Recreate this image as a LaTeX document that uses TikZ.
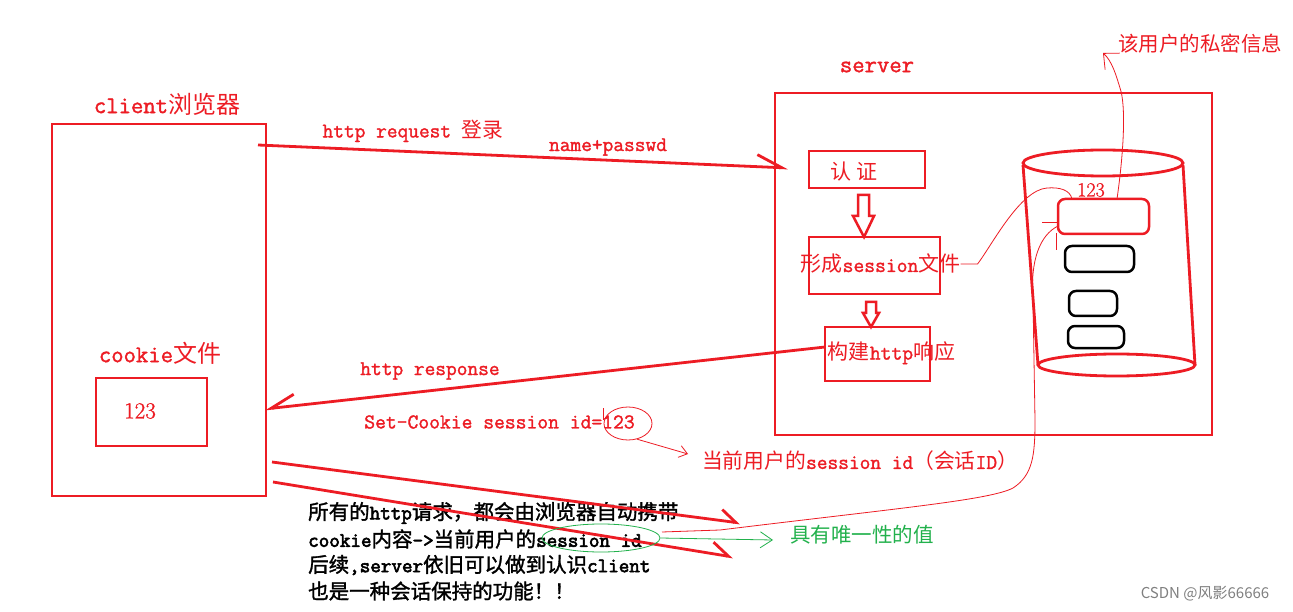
\documentclass[tikz,border=0pt]{standalone}
\usepackage{fontspec}
\newfontfamily\cjk{Noto Sans CJK SC}
\newfontfamily\cjkb{Noto Sans CJK SC}[FakeBold=1.5]
\newfontfamily\mono{Latin Modern Mono}[FakeBold=1.5]
\newfontfamily\monob{Latin Modern Mono}[FakeBold=3]
\newfontfamily\serifn{Latin Modern Roman}[FakeBold=1]
\usetikzlibrary{arrows.meta,shapes.geometric}
\definecolor{pred}{RGB}{237,28,36}
\definecolor{pgreen}{RGB}{34,177,76}
\newcommand\zh[1]{{\cjk #1}}
\newcommand\zb[1]{{\cjkb #1}}
\newcommand\fs[1]{\fontsize{#1}{#1}\selectfont}
\begin{document}
\begin{tikzpicture}[x=1pt,y=-1pt,
  box/.style={draw=pred,line width=2.8pt,inner sep=0pt,outer sep=0pt},
  rbox/.style={line width=2.5pt,rounded corners=7pt,inner sep=0pt,outer sep=0pt},
  lbl/.style={text=pred,font=\mono\fs{20.8},inner sep=0pt,anchor=center},
  blk/.style={text=black,font=\monob\fs{20.5},inner sep=0pt,anchor=west},
  thick red/.style={draw=pred,line width=2.8pt},
  thin red/.style={draw=pred,line width=0.8pt},
  thin green/.style={draw=pgreen,line width=0.8pt}
]
\fill[white] (0,0) rectangle (1293,612);
\useasboundingbox (0,0) rectangle (1293,612);

% client side
\node[box,minimum width=214pt,minimum height=372pt] (client) at (159,310) {};
\node[lbl,font=\mono\fs{24}] (clientlbl) at (167,104) {client\zh{浏览器}};
\node[lbl,font=\mono\fs{24}] (cookielbl) at (160,353) {cookie\zh{文件}};
\node[box,minimum width=111pt,minimum height=68pt] (cookie) at (151.5,412) {};
\node[lbl,font=\serifn\fs{23}] (cookieval) at (140,411) {123};

% server side
\node[box,minimum width=437pt,minimum height=342pt] (server) at (993.5,264) {};
\node[lbl,font=\mono\fs{24}] (serverlbl) at (877,67) {server};
\node[box,minimum width=116pt,minimum height=37pt] (auth) at (867,169.5) {};
\node[lbl,font=\cjk\fs{21}] (authlbl) at (854,172) {认\hspace{5pt}证};
\node[box,minimum width=131pt,minimum height=57pt] (sess) at (874.5,265.5) {};
\node[lbl,font=\mono\fs{21}] (sesslbl) at (880.5,264) {\zh{形成}session\zh{文件}};
\node[box,minimum width=105pt,minimum height=54pt] (resp) at (877.5,354) {};
\node[lbl,font=\mono\fs{21}] (resplbl) at (891.5,353) {\zh{构建}http\zh{响应}};

% hollow arrows
\draw[thick red,line width=2.5pt,line join=miter] (858,195) -- (869,195) -- (869,216) -- (874,216) -- (864,237) -- (853,216) -- (858,216) -- cycle;
\draw[thick red,line width=2.5pt,line join=miter] (866,302) -- (876,302) -- (876,313) -- (879,313) -- (871,327) -- (863,313) -- (866,313) -- cycle;

% database cylinder
\draw[thick red] (1103,163) ellipse [x radius=80, y radius=13];
\draw[thick red] (1023,165) -- (1038,365);
\draw[thick red] (1183,165) -- (1195,365);
\draw[thick red] (1116.5,365) ellipse [x radius=78.5, y radius=11];
\node[rbox,draw=pred,minimum width=91pt,minimum height=35pt] (rec1) at (1103.5,216.5) {};
\node[rbox,draw=black,minimum width=69pt,minimum height=26pt] (rec2) at (1099.5,259) {};
\node[rbox,draw=black,minimum width=48pt,minimum height=25pt] (rec3) at (1093,303.5) {};
\node[rbox,draw=black,minimum width=56pt,minimum height=22pt] (rec4) at (1096,337) {};
\node[lbl,font=\serifn\fs{20}] (c123) at (1091,190) {123};
\node[lbl,font=\cjk\fs{20.5}] (priv) at (1200,44) {该用户的私密信息};

% labels on connectors
\node[lbl] (reqlbl) at (413,131) {http request \zh{登录}};
\node[lbl] (namelbl) at (608,147) {name+passwd};
\node[lbl] (rsplbl) at (430,371) {http response};
\node[lbl,font=\mono\fs{21}] (setck) at (499.5,422) {Set-Cookie session id=123};
\node[lbl] (curid) at (860,461) {\zh{当前用户的}session id\zh{（会话}ID\zh{）}};

% black notes
\node[blk] (l1) at (308,513) {\zb{所有的}http\zb{请求，都会由浏览器自动携带}};
\node[blk] (l2) at (308,539) {cookie\zb{内容}->\zb{当前用户的}session id};
\node[blk] (l3) at (308,565) {\zb{后续},server\zb{依旧可以做到认识}client};
\node[blk] (l4) at (308,591) {\zb{也是一种会话保持的功能！！}};
\node[lbl,text=pgreen,font=\cjk\fs{20.5}] (uniq) at (862,535) {具有唯一性的值};
\node[text=gray,font=\cjk\fs{15},inner sep=0pt] (wm) at (1205,594) {CSDN @风影66666};

% coordinates
\coordinate (reqS) at (258,145);
\coordinate (reqE) at (788,168);
\coordinate (rspS) at (825,347);
\coordinate (rspE) at (265,409);
\coordinate (a1S) at (272,462);
\coordinate (a1E) at (740,523);
\coordinate (a2S) at (273,482);
\coordinate (a2E) at (733,557);
\coordinate (gE) at (773,540);
\coordinate (ckE) at (688,454);
\coordinate (privE) at (1103,53);

% main connectors
\draw[thick red,-{Straight Barb[left,length=25pt,width=24pt]}] (reqS) -- (reqE);
\draw[thick red,-{Straight Barb[right,length=24pt,width=23pt]}] (rspS) -- (rspE);
\draw[thick red,-{Straight Barb[left,length=15pt,width=22pt]}] (a1S) -- (a1E);
\draw[thick red,-{Straight Barb[left,length=17pt,width=23pt]}] (a2S) -- (a2E);

% hand-drawn annotations
\node[draw=pred,line width=0.8pt,ellipse,minimum width=48pt,minimum height=33pt,inner sep=0pt] (loop) at (628,423.5) {};
\draw[thin red] (603,408) -- (603,420);
\draw[thin red,-{Straight Barb[length=8pt,width=12pt]}] (loop.-60) -- (ckE);
\node[draw=pgreen,line width=0.8pt,ellipse,minimum width=118pt,minimum height=28pt,inner sep=0pt] (gloop) at (601,538) {};
\draw[thin green,-{Straight Barb[length=12pt,width=16pt]}] (gloop.east) -- (gE);

\draw[thin red] (sesslbl.east) -- ++(17,0) .. controls (992,245) and (1020,190) .. (1047,188) .. controls (1060,187) and (1070,190) .. (1072,199);
\draw[thin red] (662,532) -- (720,530) .. controls (900,508) and (990,500) .. (1013,488) .. controls (1033,475) and (1035,455) .. (1035,420) -- (1033,300) .. controls (1030,260) and (1040,235) .. (1058,226);
\draw[thin red] (1042,222) -- (1058,222);
\draw[thin red] (1056,233) -- (1056,250);
\draw[thin red,-{Straight Barb[length=12pt,width=22pt]}] (1117,199) .. controls (1124,150) and (1126,105) .. (1120,88) .. controls (1116,75) and (1112,61) .. (privE);
\end{tikzpicture}
\end{document}
